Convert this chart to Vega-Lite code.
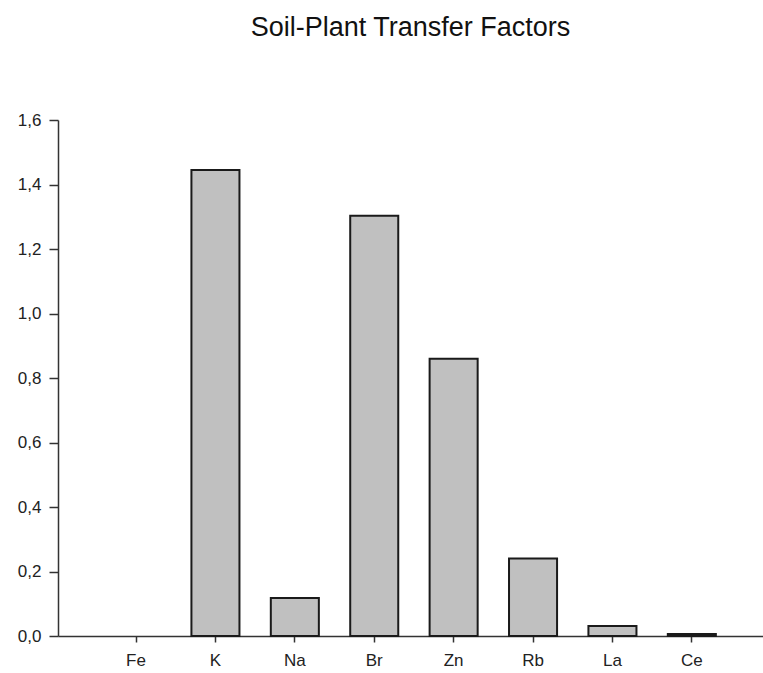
{
  "$schema": "https://vega.github.io/schema/vega-lite/v6.json",
  "autosize": {"type": "fit", "contains": "padding"},
  "width": 763,
  "height": 668,
  "padding": {"left": 17, "top": 14, "right": 0, "bottom": 0},
  "background": "white",
  "title": {
    "text": "Soil-Plant Transfer Factors",
    "font": "Liberation Sans",
    "fontSize": 27,
    "fontWeight": "normal",
    "color": "#111111",
    "anchor": "middle",
    "offset": 69
  },
  "data": {
    "values": [
      {"element": "Fe", "tf": null},
      {"element": "K", "tf": 1.445},
      {"element": "Na", "tf": 0.118},
      {"element": "Br", "tf": 1.303},
      {"element": "Zn", "tf": 0.86},
      {"element": "Rb", "tf": 0.24},
      {"element": "La", "tf": 0.031},
      {"element": "Ce", "tf": 0.006}
    ]
  },
  "mark": {"type": "bar", "fill": "#c0c0c0", "stroke": "#1a1a1a", "strokeWidth": 2},
  "encoding": {
    "x": {
      "field": "element",
      "type": "nominal",
      "sort": null,
      "scale": {
        "domain": ["Fe", "K", "Na", "Br", "Zn", "Rb", "La", "Ce"],
        "paddingInner": 0.395,
        "paddingOuter": 0.637,
        "align": 0.534
      },
      "axis": {
        "title": null,
        "labelAngle": 0,
        "labelFont": "Liberation Sans",
        "labelFontSize": 17,
        "labelColor": "#222222",
        "labelPadding": 10,
        "tickSize": 6,
        "tickColor": "#333333",
        "tickWidth": 1.5,
        "domainColor": "#333333",
        "domainWidth": 1.5,
        "grid": false
      }
    },
    "y": {
      "field": "tf",
      "type": "quantitative",
      "scale": {"domain": [0, 1.6], "nice": false},
      "axis": {
        "title": null,
        "values": [0, 0.2, 0.4, 0.6, 0.8, 1.0, 1.2, 1.4, 1.6],
        "labelExpr": "replace(format(datum.value, '.1f'), '.', ',')",
        "labelFont": "Liberation Sans",
        "labelFontSize": 17,
        "labelColor": "#222222",
        "labelPadding": 8,
        "tickSize": 9,
        "tickColor": "#333333",
        "tickWidth": 1.5,
        "domainColor": "#333333",
        "domainWidth": 1.5,
        "grid": false
      }
    }
  },
  "config": {"view": {"stroke": null}}
}
